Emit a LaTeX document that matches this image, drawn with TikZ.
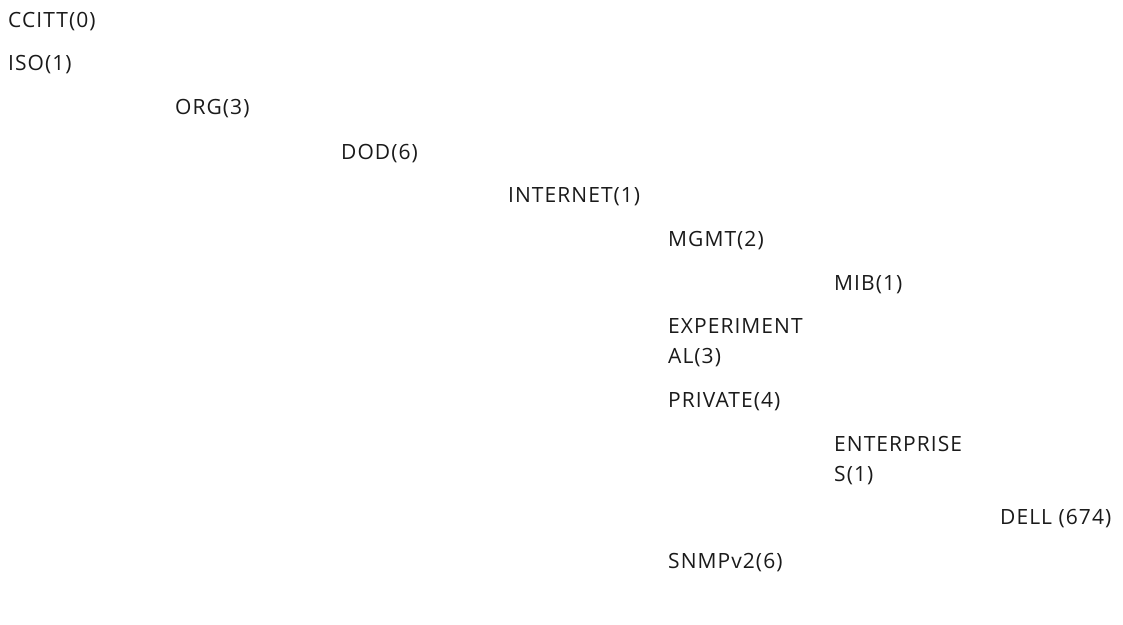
\documentclass[tikz,border=0pt]{standalone}
\usepackage{fontspec}
\setmainfont[LetterSpace=5]{Open Sans}
\definecolor{oidtext}{HTML}{1A1A1A}
\tikzset{
    oid/.style={anchor=base west, inner sep=0pt, align=left, text=oidtext,
        font={\fontsize{21}{30}\selectfont}}
}
\begin{document}
\begin{tikzpicture}[x=1pt, y=-1pt]
    \useasboundingbox (0,0) rectangle (1123,624);

    % Raíz
    \node[oid] (ccitt) at (8,27) {CCITT(0)};
    \node[oid] (iso) at (8,70) {ISO(1)};

    % Rama ISO
    \node[oid] (org) at (175,114) {ORG(3)};
    \node[oid] (dod) at (341,159) {DOD(6)};
    \node[oid] (internet) at (508,202) {INTERNET(1)};

    % Rama INTERNET (la base de un nodo de dos líneas es la última línea)
    \node[oid] (mgmt) at (668,246) {MGMT(2)};
    \node[oid] (mib) at (834,290) {MIB(1)};
    \node[oid] (experimental) at (668,363) {EXPERIMENT\\AL(3)};
    \node[oid] (private) at (668,407) {PRIVATE(4)};
    \node[oid] (enterprises) at (834,481) {ENTERPRISE\\S(1)};
    \node[oid] (dell) at (1000,524) {DELL (674)};
    \node[oid] (snmpv2) at (668,568) {SNMPv2(6)};
\end{tikzpicture}
\end{document}
